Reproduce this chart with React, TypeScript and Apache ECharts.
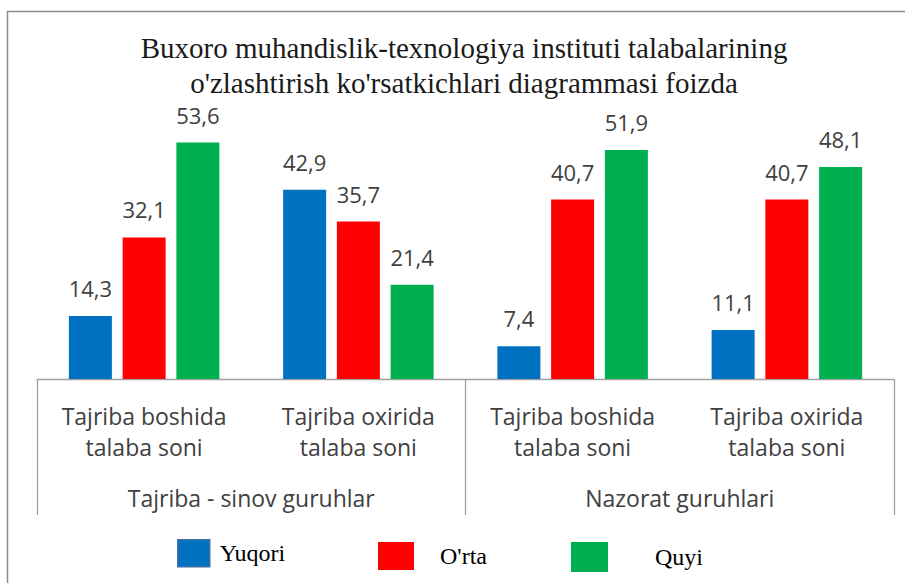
import React, { useEffect, useRef } from "react";
import * as echarts from "echarts";

const titleLines = [
  "Buxoro muhandislik-texnologiya instituti talabalarining",
  "o'zlashtirish ko'rsatkichlari diagrammasi foizda",
];
const categories = [
  "Tajriba boshida\ntalaba soni",
  "Tajriba oxirida\ntalaba soni",
  "Tajriba boshida\ntalaba soni",
  "Tajriba oxirida\ntalaba soni",
];
const groups = ["Tajriba - sinov guruhlar", "Nazorat guruhlari"];
const seriesNames = ["Yuqori", "O'rta", "Quyi"];
const yuqori = [14.3, 42.9, 7.4, 11.1];
const orta = [32.1, 35.7, 40.7, 40.7];
const quyi = [53.6, 21.4, 51.9, 48.1];
const colors = ["#0070C0", "#FF0000", "#00B050"];

export default function App() {
  const ref = useRef<HTMLDivElement>(null);
  useEffect(() => {
    if (!ref.current) return;
    const chart = echarts.init(ref.current, undefined, { renderer: "svg" });
    const axisGray = "#a0a0a0";
    const labelFont = "'Open Sans', sans-serif";
    const serif = "'Liberation Serif', 'Times New Roman', serif";
    const fmt = (p: any) => Number(p.value).toFixed(1).replace(".", ",");
    const values = [yuqori, orta, quyi];
    const legendPos = [
      { left: 177, top: 539, w: 32, h: 27, pad: [5, 0, 0, 5], border: "#3d6fa6" },
      { left: 378, top: 542, w: 36, h: 28, pad: [0, 0, 0, 21], border: undefined },
      { left: 571, top: 542, w: 37, h: 30, pad: [0, 0, 4, 42], border: undefined },
    ];
    chart.setOption({
      animation: false,
      backgroundColor: "#ffffff",
      title: {
        text: titleLines.join("\n"),
        left: 464,
        top: 31,
        padding: 0,
        textAlign: "center",
        textStyle: {
          fontFamily: serif,
          fontSize: 29,
          fontWeight: "normal",
          color: "#1a1a1a",
          lineHeight: 34.5,
        },
      },
      legend: seriesNames.map((name, i) => ({
        data: [name],
        left: legendPos[i].left,
        top: legendPos[i].top,
        padding: 0,
        itemWidth: legendPos[i].w,
        itemHeight: legendPos[i].h,
        icon: "rect",
        selectedMode: false,
        itemStyle: legendPos[i].border
          ? { borderColor: legendPos[i].border, borderWidth: 1.5 }
          : { borderWidth: 0 },
        textStyle: {
          fontFamily: serif,
          fontSize: 24,
          color: "#000000",
          padding: legendPos[i].pad,
        },
      })),
      graphic: [
        {
          type: "rect",
          shape: { x: 7.5, y: 11.5, width: 1200, height: 1200 },
          style: { fill: "none", stroke: "#8c8c8c", lineWidth: 1.5 },
          silent: true,
        },
      ],
      grid: { left: 37, right: 11, top: 114.4, bottom: 204, containLabel: false },
      xAxis: [
        {
          type: "category",
          data: categories,
          position: "bottom",
          axisLine: { show: true, lineStyle: { color: axisGray, width: 1.3 } },
          axisTick: { show: false },
          axisLabel: {
            interval: 0,
            margin: 21,
            fontFamily: labelFont,
            fontSize: 23,
            lineHeight: 31,
            color: "#404040",
          },
        },
        {
          type: "category",
          data: groups,
          position: "bottom",
          axisLine: { show: false },
          axisTick: {
            show: true,
            length: 136,
            interval: 0,
            lineStyle: { color: axisGray, width: 1.3 },
          },
          axisLabel: {
            interval: 0,
            margin: 103,
            fontFamily: labelFont,
            fontSize: 23,
            lineHeight: 31,
            color: "#404040",
          },
        },
      ],
      yAxis: {
        type: "value",
        min: 0,
        max: 60,
        show: false,
        splitLine: { show: false },
      },
      series: seriesNames.map((name, i) => ({
        name,
        type: "bar",
        xAxisIndex: 0,
        data: values[i],
        barWidth: 43,
        barGap: "25%",
        itemStyle: { color: colors[i] },
        label: {
          show: true,
          position: "top",
          distance: 17,
          formatter: fmt,
          fontFamily: labelFont,
          fontSize: 22,
          lineHeight: 22,
          color: "#404040",
        },
      })),
    });
    return () => chart.dispose();
  }, []);
  return (
    <div
      ref={ref}
      style={{ position: "fixed", left: 0, top: 0, width: 905, height: 583 }}
    />
  );
}
